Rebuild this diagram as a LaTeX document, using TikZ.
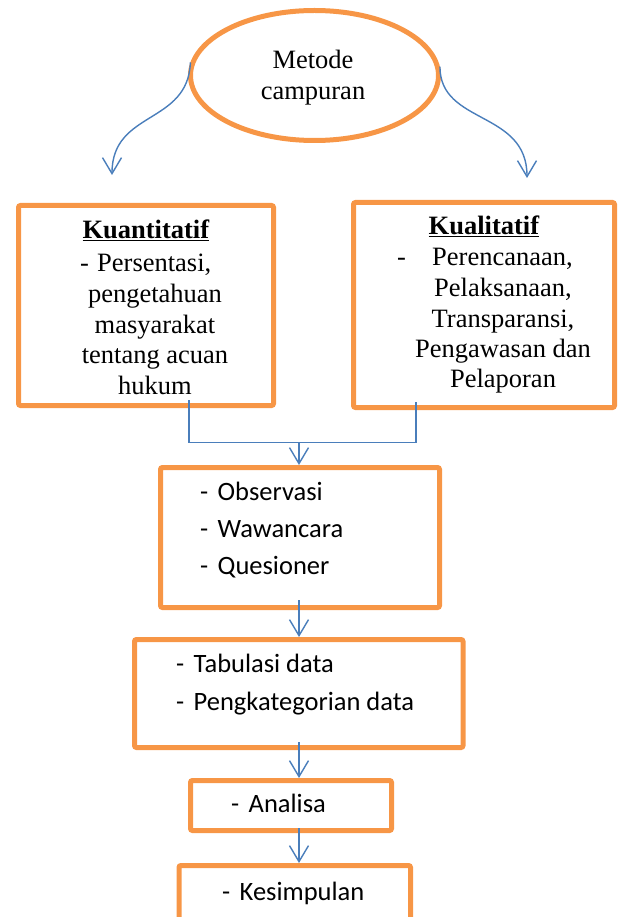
\documentclass[tikz,border=0pt]{standalone}
\usepackage{fontspec}
\setmainfont{Liberation Serif}
\newfontfamily\calibri{Carlito}
\usepackage{xcolor}
\usetikzlibrary{arrows.meta, shapes.geometric}
\definecolor{boxorange}{RGB}{247,150,70}
\definecolor{flowblue}{RGB}{74,126,187}
\newcommand{\itm}[2][17.5pt]{\makebox[#1][l]{-}#2}

\begin{document}
\begin{tikzpicture}[x=1pt, y=-1pt,
  box/.style={draw=boxorange, line width=5pt, rounded corners=2pt, inner sep=0pt},
  serif/.style={anchor=base, inner sep=0pt, font=\fontsize{26.5}{31}\selectfont},
  sans/.style={anchor=base west, inner sep=0pt, font=\calibri\fontsize{26.5}{37}\selectfont},
  flow/.style={draw=flowblue, line width=1.4pt, -{Straight Barb[length=16pt, width=19pt]}},
  link/.style={draw=flowblue, line width=1.4pt}
]
\useasboundingbox (0,0) rectangle (623,917);

% metode campuran
\node[box, ellipse, minimum width=248pt, minimum height=130pt] (mix) at (314.5,75.5) {};
\node[serif] (mix1) at (313,69) {Metode};
\node[serif] (mix2) at (313,100) {campuran};

% kuantitatif / kualitatif
\node[box, minimum width=255pt, minimum height=200pt] (kuan) at (146,305.5) {};
\node[box, minimum width=261pt, minimum height=205pt] (kual) at (484,305) {};

\node[serif] (kuanh) at (146,238) {\underline{\textbf{Kuantitatif}}};
\node[serif, anchor=base west] (kuan1) at (80,271.5) {\itm[17pt]{Persentasi,}};
\node[serif] (kuan2) at (155,302) {pengetahuan};
\node[serif] (kuan3) at (155,333) {masyarakat};
\node[serif] (kuan4) at (155,363.5) {tentang acuan};
\node[serif] (kuan5) at (155,394) {hukum};

\node[serif] (kualh) at (484,234) {\underline{\textbf{Kualitatif}}};
\node[serif, anchor=base west] (kual1) at (397,265) {\itm[35pt]{Perencanaan,}};
\node[serif] (kual2) at (503,296) {Pelaksanaan,};
\node[serif] (kual3) at (503,327) {Transparansi,};
\node[serif] (kual4) at (503,357) {Pengawasan dan};
\node[serif] (kual5) at (503,387) {Pelaporan};

\coordinate (jl) at (189,442.5);
\coordinate (jr) at (416,442.5);
\coordinate (jm) at (299,442.5);

% lower steps
\node[box, minimum width=279pt, minimum height=140pt] (collect) at (300,537.5) {};
\node[sans] (obs) at (200,500) {\itm{Observasi}};
\node[sans] (waw) at (200,537.5) {\itm{Wawancara}};
\node[sans] (ques) at (200,574.5) {\itm{Quesioner}};

\node[box, minimum width=328.5pt, minimum height=108pt] (process) at (298.75,693.5) {};
\node[sans] (tab) at (176,672) {\itm{Tabulasi data}};
\node[sans] (kat) at (176,710) {\itm{Pengkategorian data}};

\node[box, minimum width=201pt, minimum height=50pt] (analyse) at (291,805.5) {};
\node[sans] (ana) at (231,812) {\itm{Analisa}};

\node[box, minimum width=231.5pt, minimum height=90pt] (conclude) at (294.75,910.5) {};
\node[sans] (kes) at (222,900) {\itm{Kesimpulan}};

% connectors
\draw[flow] (mix.174) .. controls (188,125) and (112,110) .. (112,175);
\draw[flow] (mix.4) .. controls (440,125) and (527,110) .. (527,178);
\draw[link] ([yshift=8pt]kuan.south -| jl) -- (jl) -- (jr) -- ([yshift=8pt]kual.south -| jr);
\draw[flow] (jm) -- (jm |- collect.north);
\draw[flow] ([yshift=10pt]collect.south -| jm) -- (jm |- process.north);
\draw[flow] ([yshift=8pt]process.south -| jm) -- (jm |- analyse.north);
\draw[flow] ([yshift=5pt]analyse.south -| jm) -- (jm |- conclude.north);
\end{tikzpicture}
\end{document}
